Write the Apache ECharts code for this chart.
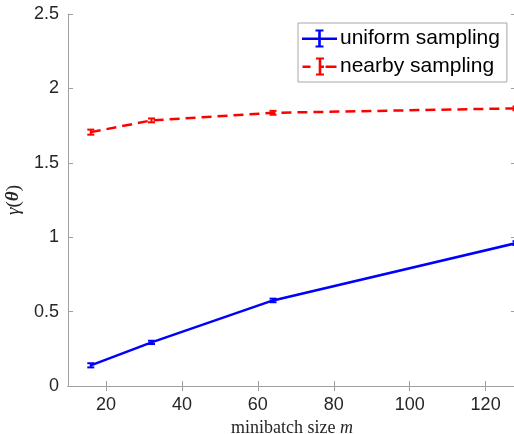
<!DOCTYPE html>
<html>
<head>
<meta charset="utf-8">
<script src="https://cdn.jsdelivr.net/npm/echarts@6/dist/echarts.min.js"></script>
<style>
html,body{margin:0;padding:0;background:#fff;}
#chart{width:514px;height:434px;}
</style>
</head>
<body>
<div id="chart"></div>
<script>
var minibatchSizes = [16, 32, 64, 128];
var uniformMean = [0.139, 0.293, 0.575, 0.960];
var uniformErr = [0.014, 0.011, 0.012, 0.012];
var nearbyMean = [1.706, 1.785, 1.836, 1.866];
var nearbyErr = [0.017, 0.013, 0.013, 0.013];
var xTickValues = [20, 40, 60, 80, 100, 120];
var seriesNames = ['uniform sampling', 'nearby sampling'];

var uniformColor = '#0000ff';
var nearbyColor = '#ff0000';
var axisGray = '#a0a0a0';
var textColor = '#262626';

function pairs(xs, ys) { return xs.map(function (x, i) { return [x, ys[i]]; }); }
function errData(xs, m, e) { return xs.map(function (x, i) { return [x, m[i] - e[i], m[i] + e[i]]; }); }

function errRender(color) {
  return function (params, api) {
    var lo = api.coord([api.value(0), api.value(1)]);
    var hi = api.coord([api.value(0), api.value(2)]);
    var hw = 3.5;
    var st = { stroke: color, lineWidth: 2 };
    return {
      type: 'group',
      children: [
        { type: 'line', shape: { x1: lo[0], y1: lo[1], x2: hi[0], y2: hi[1] }, style: st },
        { type: 'line', shape: { x1: lo[0] - hw, y1: lo[1], x2: lo[0] + hw, y2: lo[1] }, style: st },
        { type: 'line', shape: { x1: hi[0] - hw, y1: hi[1], x2: hi[0] + hw, y2: hi[1] }, style: st }
      ]
    };
  };
}

var iconSolid = 'path://M0,8 L35,8 L35,10.4 L0,10.4 Z M16.2,0 L18.8,0 L18.8,18 L16.2,18 Z M13.5,0 L21.5,0 L21.5,2 L13.5,2 Z M13.5,16 L21.5,16 L21.5,18 L13.5,18 Z';
var iconDashed = 'path://M0,8 L8,8 L8,10.4 L0,10.4 Z M23,8 L34,8 L34,10.4 L23,10.4 Z M16.2,0 L18.8,0 L18.8,18 L16.2,18 Z M13.5,0 L21.5,0 L21.5,2 L13.5,2 Z M13.5,16 L21.5,16 L21.5,18 L13.5,18 Z M18.8,8 L21.5,8 L21.5,10.4 L18.8,10.4 Z';

var chart = echarts.init(document.getElementById('chart'), null, { renderer: 'canvas' });
var option = {
  animation: false,
  backgroundColor: '#ffffff',
  grid: { left: 68, top: 14, right: -2, bottom: 48, containLabel: false, outerBoundsMode: 'none' },
  legend: {
    orient: 'vertical',
    left: 298,
    top: 23,
    padding: [5, 7, 5, 4],
    itemGap: 7,
    itemWidth: 35,
    itemHeight: 18,
    backgroundColor: '#ffffff',
    borderColor: '#a8a8a8',
    borderWidth: 1,
    borderRadius: 0,
    textStyle: { fontFamily: 'Liberation Sans, Arial, sans-serif', fontSize: 21, color: '#000000', padding: [0, 0, 0, -2] },
    data: [
      { name: seriesNames[0], icon: iconSolid, itemStyle: { color: uniformColor } },
      { name: seriesNames[1], icon: iconDashed, itemStyle: { color: nearbyColor } }
    ]
  },
  xAxis: [{
    type: 'value',
    min: 10,
    max: 128,
    name: '{a|minibatch size }{b|m}',
    nameLocation: 'middle',
    nameGap: 30,
    nameTextStyle: {
      rich: {
        a: { fontFamily: 'Liberation Serif, serif', fontSize: 18, color: textColor },
        b: { fontFamily: 'Liberation Serif, serif', fontSize: 18, fontStyle: 'italic', color: textColor }
      }
    },
    axisLine: { show: true, lineStyle: { color: axisGray, width: 1 } },
    axisTick: { show: true, inside: true, length: 5, customValues: xTickValues, lineStyle: { color: axisGray } },
    axisLabel: { customValues: xTickValues, fontFamily: 'Liberation Sans, Arial, sans-serif', fontSize: 18, color: textColor, margin: 10 },
    splitLine: { show: false }
  }, {
    type: 'value',
    position: 'top',
    min: 10,
    max: 128,
    axisLine: { show: true, lineStyle: { color: axisGray, width: 1 } },
    axisTick: { show: true, inside: true, length: 5, customValues: xTickValues, lineStyle: { color: axisGray } },
    axisLabel: { show: false },
    splitLine: { show: false }
  }],
  yAxis: [{
    type: 'value',
    min: 0,
    max: 2.5,
    interval: 0.5,
    name: '{g|γ}{p|(}{t|θ}{p|)}',
    nameLocation: 'middle',
    nameRotate: 90,
    nameGap: 44,
    nameTextStyle: {
      rich: {
        g: { fontFamily: 'Liberation Serif, serif', fontSize: 19, fontStyle: 'italic', color: textColor },
        p: { fontFamily: 'Liberation Serif, serif', fontSize: 19, color: textColor },
        t: { fontFamily: 'Liberation Serif, serif', fontSize: 19, fontStyle: 'italic', fontWeight: 'bold', color: textColor }
      }
    },
    axisLine: { show: true, lineStyle: { color: axisGray, width: 1 } },
    axisTick: { show: true, inside: true, length: 5, lineStyle: { color: axisGray } },
    axisLabel: { fontFamily: 'Liberation Sans, Arial, sans-serif', fontSize: 18, color: textColor, margin: 9 },
    splitLine: { show: false }
  }, {
    type: 'value',
    position: 'right',
    min: 0,
    max: 2.5,
    interval: 0.5,
    axisLine: { show: true, lineStyle: { color: axisGray, width: 1 } },
    axisTick: { show: true, inside: true, length: 5, lineStyle: { color: axisGray } },
    axisLabel: { show: false },
    splitLine: { show: false }
  }],
  series: [
    {
      name: seriesNames[0] + ' line',
      type: 'line',
      data: pairs(minibatchSizes, uniformMean),
      symbol: 'none',
      lineStyle: { color: uniformColor, width: 2.5 },
      itemStyle: { color: uniformColor },
      z: 3
    },
    {
      name: seriesNames[1] + ' line',
      type: 'line',
      data: pairs(minibatchSizes, nearbyMean),
      symbol: 'none',
      lineStyle: { color: nearbyColor, width: 2.5, type: [10, 6] },
      itemStyle: { color: nearbyColor },
      z: 3
    },
    {
      name: seriesNames[0],
      type: 'custom',
      data: errData(minibatchSizes, uniformMean, uniformErr),
      renderItem: errRender(uniformColor),
      itemStyle: { color: uniformColor },
      clip: false,
      z: 4
    },
    {
      name: seriesNames[1],
      type: 'custom',
      data: errData(minibatchSizes, nearbyMean, nearbyErr),
      renderItem: errRender(nearbyColor),
      itemStyle: { color: nearbyColor },
      clip: false,
      z: 4
    }
  ]
};
chart.setOption(option);
</script>
</body>
</html>
